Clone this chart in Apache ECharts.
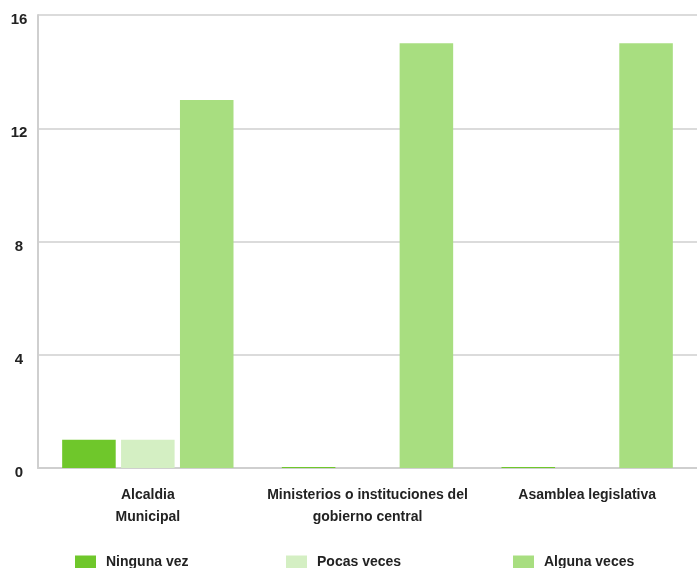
<!DOCTYPE html>
<html><head><meta charset="utf-8">
<script src="https://cdn.jsdelivr.net/npm/echarts@6/dist/echarts.min.js"></script>
<style>html,body{margin:0;padding:0;background:#fff}#c{width:697px;height:568px}</style>
</head><body><div id="c"></div>
<script>
const categories = ['Alcaldia\nMunicipal', 'Ministerios o instituciones del\ngobierno central', 'Asamblea legislativa'];
const seriesNames = ['Ninguna vez', 'Pocas veces', 'Alguna veces'];
const ningunaVez = [1, 0, 0];
const pocasVeces = [1, 0, 0];
const algunaVeces = [13, 15, 15];
const yTicks = [0, 4, 8, 12, 16];
const colors = ['#6fc72b', '#d4efc3', '#a8de80'];

const font = 'Liberation Sans';
const chart = echarts.init(document.getElementById('c'));
const legendLefts = [75, 286, 513];
chart.setOption({
  animation: false,
  grid: {left: 38, right: 0, top: 15, bottom: 100, containLabel: false},
  legend: seriesNames.map((n, i) => ({
    data: [n], left: legendLefts[i], top: 555, padding: 0, itemWidth: 21, itemHeight: 13, itemGap: 0,
    icon: 'rect', textStyle: {fontFamily: font, fontSize: 14, fontWeight: 'bold', color: '#222', padding: [0, 0, 0, 5]}
  })),
  xAxis: {
    type: 'category', data: categories,
    axisLine: {show: true, lineStyle: {color: '#cfcfcf', width: 2}},
    axisTick: {show: false},
    axisLabel: {margin: 16, fontFamily: font, fontSize: 14, fontWeight: 'bold', color: '#222', lineHeight: 22, interval: 0}
  },
  yAxis: {
    type: 'value', min: yTicks[0], max: yTicks[yTicks.length - 1], interval: 4,
    axisLine: {show: true, lineStyle: {color: '#cfcfcf', width: 2}},
    axisTick: {show: false},
    splitLine: {lineStyle: {color: '#cfcfcf', width: 1.5}},
    axisLabel: {margin: 19, align: 'center', verticalAlign: 'top', lineHeight: 10, fontFamily: font, fontSize: 15, fontWeight: 'bold', color: '#222'}
  },
  series: [
    {name: seriesNames[0], type: 'bar', data: ningunaVez, itemStyle: {color: colors[0]}, barGap: '10%', barCategoryGap: '22%', barMinHeight: 1},
    {name: seriesNames[1], type: 'bar', data: pocasVeces, itemStyle: {color: colors[1]}},
    {name: seriesNames[2], type: 'bar', data: algunaVeces, itemStyle: {color: colors[2]}}
  ]
});
</script></body></html>
